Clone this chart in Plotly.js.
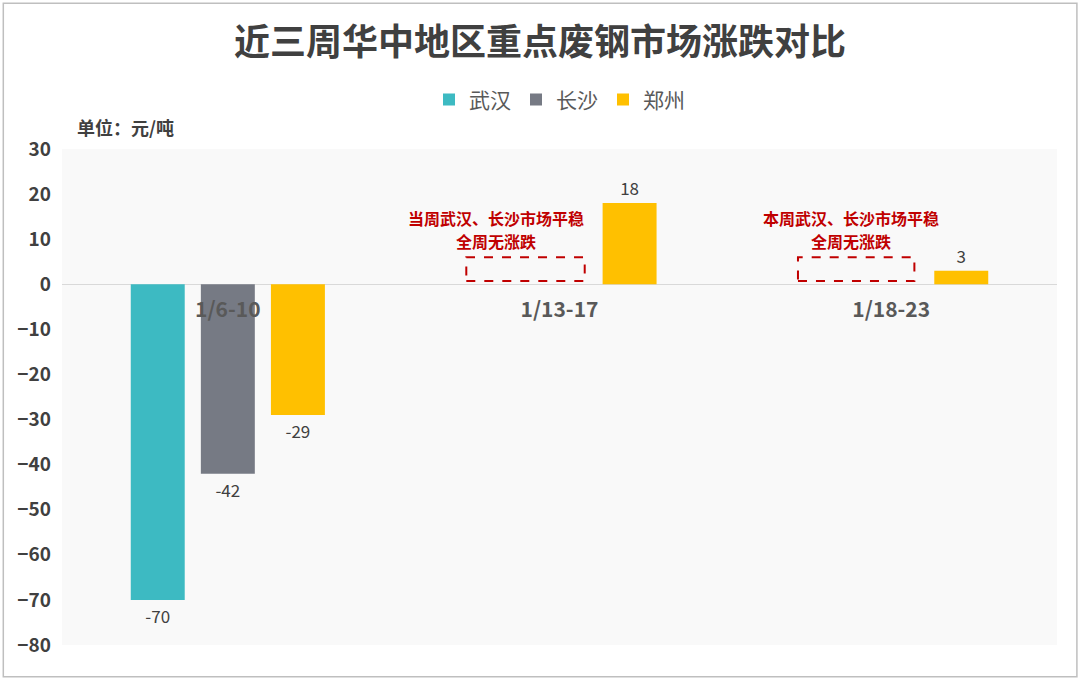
<!DOCTYPE html>
<html>
<head>
<meta charset="utf-8">
<script src="https://cdn.plot.ly/plotly-3.0.1.min.js"></script>
<style>
  body { margin: 0; background: #fff; }
  #chart { width: 1080px; height: 683px; }
</style>
</head>
<body>
<div id="chart"></div>
<script>
// chart data
const weeks = ["1/6-10", "1/13-17", "1/18-23"];
const wuhan = [-70, 0, 0];
const changsha = [-42, 0, 0];
const zhengzhou = [-29, 18, 3];
const cities = ["武汉", "长沙", "郑州"];
const colors = ["#3dbac2", "#767a84", "#ffc000"];
const yTicks = [30, 20, 10, 0, -10, -20, -30, -40, -50, -60, -70, -80];

const font = "'Microsoft YaHei', 'Noto Sans CJK SC', 'Noto Sans', sans-serif";

const makeBar = (name, values, color) => ({
    type: "bar",
    name: name,
    x: weeks,
    y: values,
    marker: { color: color },
    text: values.map(v => v === 0 ? "" : String(v)),
    textposition: "outside",
    cliponaxis: false,
    textfont: { family: font, size: 17, color: "#404040" },
    hoverinfo: "skip"
});

const traces = [
    makeBar(cities[0], wuhan, colors[0]),
    makeBar(cities[1], changsha, colors[1]),
    makeBar(cities[2], zhengzhou, colors[2])
];

// red notes, one annotation per line
const red = "#c00000";
const note = (x, y, text) => ({
    xref: "x", yref: "y",
    x: x, y: y, xanchor: "center", yanchor: "middle",
    text: "<b>" + text + "</b>",
    showarrow: false,
    font: { family: font, size: 16, color: red }
});
const dashedBox = (x0, x1) => ({
    type: "rect", xref: "x", yref: "y",
    x0: x0, x1: x1, y0: 0.7, y1: 6,
    line: { color: red, width: 2, dash: "dash" },
    fillcolor: "rgba(0,0,0,0)"
});

const layout = {
    width: 1080,
    height: 683,
    paper_bgcolor: "#ffffff",
    plot_bgcolor: "#f9f9f9",
    margin: { l: 62, r: 23, t: 149, b: 38 },
    barmode: "group",
    bargap: 0.366,
    bargroupgap: 0.23,
    font: { family: font, color: "#404040" },
    title: {
        text: "<b>近三周华中地区重点废钢市场涨跌对比</b>",
        font: { family: font, size: 36, color: "#404040" },
        x: 0.5, xanchor: "center",
        y: 0.938, yanchor: "middle"
    },
    showlegend: true,
    legend: {
        orientation: "h",
        x: 0.5, xanchor: "center",
        y: 1.099, yanchor: "middle",
        font: { family: font, size: 21, color: "#595959" },
        itemwidth: 30,
        traceorder: "normal"
    },
    xaxis: {
        type: "category",
        anchor: "free",
        position: 80 / 110,
        showline: false,
        showgrid: false,
        ticks: "",
        ticklabelstandoff: 11,
        tickfont: { family: font, size: 21, color: "#595959", weight: "bold" }
    },
    yaxis: {
        range: [-80, 30],
        tickvals: yTicks,
        showgrid: false,
        zeroline: true,
        zerolinecolor: "#d9d9d9",
        zerolinewidth: 1.5,
        showline: false,
        ticks: "",
        ticklabelstandoff: 10,
        tickfont: { family: font, size: 19, color: "#404040", weight: "bold" }
    },
    annotations: [
        {
            xref: "paper", yref: "paper",
            x: 0.013, y: 1.044, xanchor: "left", yanchor: "middle",
            text: "<b>单位：元/吨</b>",
            showarrow: false,
            font: { family: font, size: 18, color: "#404040" }
        },
        note(0.81, 14.7, "当周武汉、长沙市场平稳"),
        note(0.81, 9.7, "全周无涨跌"),
        note(1.88, 14.7, "本周武汉、长沙市场平稳"),
        note(1.88, 9.7, "全周无涨跌")
    ],
    shapes: [
        dashedBox(0.719, 1.076),
        dashedBox(1.719, 2.07),
        {
            type: "rect", xref: "paper", yref: "paper",
            x0: -0.059, x1: 1.02, y0: -0.064, y1: 1.294,
            line: { color: "#bfbfbf", width: 1.5 },
            fillcolor: "rgba(0,0,0,0)",
            layer: "below"
        }
    ]
};

Plotly.newPlot("chart", traces, layout, { displayModeBar: false, staticPlot: true });
</script>
</body>
</html>
